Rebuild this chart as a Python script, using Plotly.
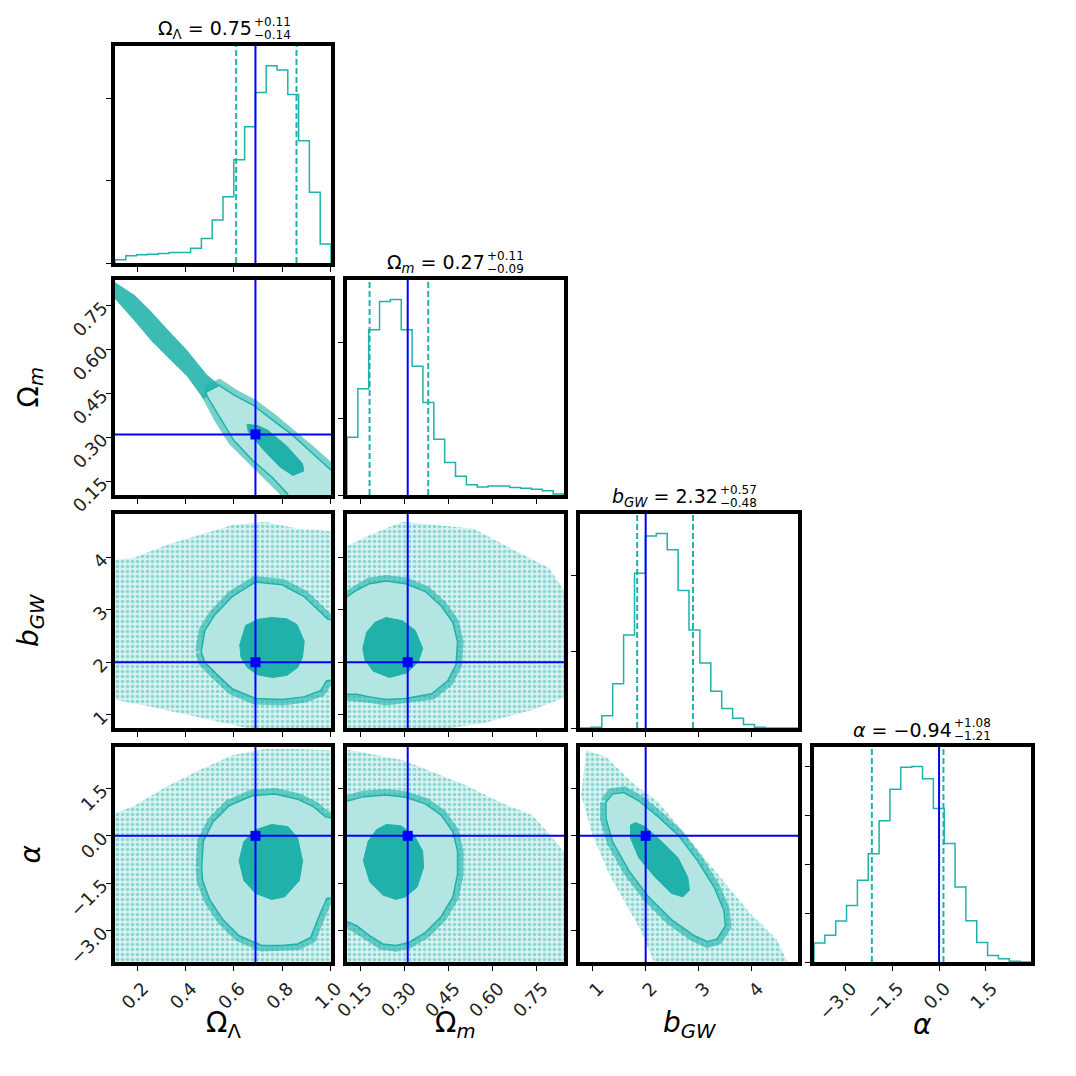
import numpy as np
import plotly.graph_objects as go

# ---------------- values ----------------
axis_labels = ["Ω<sub>Λ</sub>", "Ω<sub><i>m</i></sub>", "<i>b</i><sub><i>GW</i></sub>", "<i>α</i>"]
truths = [0.69, 0.31, 2.0, 0.0]
medians = [0.75, 0.27, 2.32, -0.94]
err_plus = [0.11, 0.11, 0.57, 1.08]
err_minus = [0.14, 0.09, 0.48, 1.21]

x_ranges = [[0.108, 1.003], [0.103, 0.843], [0.764, 4.867], [-4.0, 2.94]]
y_ranges = [None, [0.103, 0.838], [0.746, 4.83], [-3.99, 2.81]]

ticks_omega_l = [0.2, 0.4, 0.6, 0.8, 1.0]
ticks_omega_m = [0.15, 0.30, 0.45, 0.60, 0.75]
ticks_bgw = [1, 2, 3, 4]
ticks_alpha = [-3.0, -1.5, 0.0, 1.5]
tick_vals = [ticks_omega_l, ticks_omega_m, ticks_bgw, ticks_alpha]
tick_fmt = [".1f", ".2f", "d", ".1f"]

# 1D histograms (20 bins over the axis range, arbitrary count units)
hist_omega_l = [10, 22, 25, 27, 29, 32, 32, 45, 75, 132, 203, 317, 418, 523, 605, 592, 517, 375, 217, 58]
hist_omega_m = [178, 328, 510, 597, 603, 510, 397, 285, 172, 100, 58, 32, 25, 28, 28, 23, 21, 18, 13, 3]
hist_bgw = [0, 2, 38, 136, 286, 476, 590, 598, 548, 423, 301, 200, 113, 60, 30, 11, 2, 0, 0, 0]
hist_alpha = [59, 83, 127, 175, 253, 335, 437, 535, 603, 605, 567, 475, 367, 232, 128, 60, 20, 10, 2, 0]
hist_counts = [hist_omega_l, hist_omega_m, hist_bgw, hist_alpha]
hist_tick_step = [253, 236, 235, 151]

# 2D panels: outer (95%) and inner (68%) contour outlines, plus the sample cloud outline
ll_mm_cloud_x = [0.10, 0.107, 0.189, 0.257, 0.325, 0.407, 0.489, 0.543, 0.475, 0.407, 0.325, 0.257, 0.189, 0.10]
ll_mm_cloud_y = [0.845, 0.831, 0.787, 0.731, 0.670, 0.598, 0.514, 0.477, 0.43, 0.508, 0.575, 0.631, 0.698, 0.78]
ll_mm_outer_x = [0.485, 0.54, 0.60, 0.68, 0.76, 0.84, 0.92, 1.0, 1.02, 1.02, 0.84, 0.82, 0.76, 0.68, 0.60, 0.54, 0.49]
ll_mm_outer_y = [0.455, 0.478, 0.445, 0.41, 0.36, 0.31, 0.25, 0.19, 0.19, 0.08, 0.08, 0.11, 0.163, 0.22, 0.29, 0.37, 0.44]
ll_mm_inner_x = [0.655, 0.70, 0.74, 0.82, 0.885, 0.89, 0.845, 0.79, 0.72, 0.66]
ll_mm_inner_y = [0.345, 0.34, 0.325, 0.27, 0.21, 0.185, 0.17, 0.20, 0.26, 0.32]

ll_b_cloud_x = [0.09, 0.19, 0.325, 0.46, 0.595, 0.73, 0.865, 1.02, 1.02, 0.70, 0.46, 0.257, 0.09]
ll_b_cloud_y = [3.94, 4.0, 4.25, 4.43, 4.62, 4.68, 4.55, 4.5, 0.7, 0.7, 0.95, 1.15, 1.3]
ll_b_outer_x = [0.465, 0.48, 0.52, 0.595, 0.69, 0.80, 0.89, 0.96, 0.99, 1.02, 1.02, 0.985, 0.96, 0.89, 0.80, 0.69, 0.595, 0.53, 0.48]
ll_b_outer_y = [2.2, 2.6, 2.9, 3.26, 3.53, 3.48, 3.26, 2.95, 2.82, 2.8, 1.66, 1.65, 1.46, 1.34, 1.29, 1.31, 1.49, 1.77, 2.0]
ll_b_inner_x = [0.625, 0.649, 0.70, 0.76, 0.82, 0.862, 0.892, 0.885, 0.865, 0.82, 0.76, 0.70, 0.656, 0.63]
ll_b_inner_y = [2.33, 2.70, 2.82, 2.855, 2.83, 2.72, 2.40, 2.10, 1.90, 1.75, 1.71, 1.76, 1.90, 2.10]

mm_b_cloud_x = [0.09, 0.181, 0.292, 0.403, 0.536, 0.68, 0.79, 0.85, 0.85, 0.735, 0.569, 0.403, 0.09]
mm_b_cloud_y = [4.18, 4.43, 4.68, 4.62, 4.55, 4.12, 3.81, 3.32, 1.34, 1.09, 0.84, 0.7, 0.7]
mm_b_outer_x = [0.09, 0.137, 0.18, 0.237, 0.303, 0.37, 0.425, 0.464, 0.48, 0.475, 0.447, 0.392, 0.303, 0.237, 0.18, 0.137, 0.09]
mm_b_outer_y = [3.2, 3.38, 3.50, 3.55, 3.50, 3.35, 3.07, 2.76, 2.39, 1.96, 1.65, 1.40, 1.31, 1.29, 1.34, 1.39, 1.39]
mm_b_inner_x = [0.157, 0.170, 0.198, 0.236, 0.292, 0.336, 0.361, 0.347, 0.309, 0.248, 0.192, 0.164]
mm_b_inner_y = [2.266, 2.575, 2.761, 2.854, 2.792, 2.606, 2.266, 2.019, 1.802, 1.709, 1.833, 2.05]

ll_a_cloud_x = [0.09, 0.19, 0.325, 0.46, 0.595, 0.73, 0.865, 1.02, 1.02, 0.09]
ll_a_cloud_y = [0.65, 0.96, 1.58, 2.09, 2.55, 2.75, 2.75, 2.7, -4.1, -4.1]
ll_a_outer_x = [0.467, 0.474, 0.514, 0.582, 0.676, 0.771, 0.865, 0.933, 0.98, 1.02, 1.02, 0.986, 0.959, 0.939, 0.919, 0.865, 0.798, 0.717, 0.622, 0.555, 0.501, 0.471]
ll_a_outer_y = [-1.0, -0.18, 0.44, 0.96, 1.27, 1.32, 1.16, 0.91, 0.60, 0.55, -1.95, -1.98, -2.44, -2.85, -3.21, -3.42, -3.47, -3.47, -3.16, -2.65, -2.03, -1.41]
ll_a_inner_x = [0.622, 0.642, 0.690, 0.757, 0.825, 0.865, 0.885, 0.872, 0.811, 0.757, 0.690, 0.642]
ll_a_inner_y = [-0.79, -0.18, 0.19, 0.36, 0.29, -0.07, -0.79, -1.41, -1.93, -2.01, -1.82, -1.41]

mm_a_cloud_x = [0.09, 0.181, 0.292, 0.403, 0.514, 0.625, 0.736, 0.824, 0.85, 0.85, 0.09]
mm_a_cloud_y = [2.75, 2.6, 2.4, 1.99, 1.58, 1.06, 0.65, -0.28, -0.6, -4.1, -4.1]
mm_a_outer_x = [0.09, 0.109, 0.159, 0.237, 0.303, 0.370, 0.425, 0.464, 0.480, 0.480, 0.464, 0.425, 0.370, 0.314, 0.270, 0.225, 0.181, 0.137, 0.109, 0.09]
mm_a_outer_y = [1.11, 1.11, 1.24, 1.29, 1.22, 1.01, 0.65, 0.13, -0.48, -1.21, -1.93, -2.54, -3.06, -3.37, -3.47, -3.42, -3.16, -2.85, -2.73, -2.73]
mm_a_inner_x = [0.159, 0.175, 0.203, 0.237, 0.286, 0.331, 0.361, 0.364, 0.342, 0.303, 0.270, 0.225, 0.181]
mm_a_inner_y = [-0.79, -0.18, 0.19, 0.36, 0.32, 0.03, -0.48, -1.0, -1.62, -1.93, -2.01, -1.87, -1.46]

b_a_cloud_x = [0.88, 1.25, 1.75, 2.24, 2.85, 3.41, 3.96, 4.46, 4.7, 2.18, 1.93, 1.62, 1.31, 1.0, 0.79]
b_a_cloud_y = [2.71, 2.5, 1.68, 1.06, -0.17, -1.31, -2.44, -3.26, -4.1, -4.1, -3.06, -2.13, -1.2, 0.03, 1.27]
b_a_outer_x = [1.253, 1.376, 1.591, 1.869, 2.238, 2.608, 2.978, 3.286, 3.47, 3.50, 3.347, 3.163, 2.916, 2.485, 2.054, 1.684, 1.376, 1.253]
b_a_outer_y = [1.06, 1.32, 1.37, 1.11, 0.60, 0.03, -0.79, -1.62, -2.34, -2.85, -3.26, -3.35, -3.16, -2.65, -1.93, -1.10, -0.18, 0.55]
b_a_inner_x = [1.715, 1.807, 1.992, 2.30, 2.608, 2.793, 2.824, 2.70, 2.485, 2.177, 1.869, 1.715]
b_a_inner_y = [0.34, 0.42, 0.29, -0.18, -0.69, -1.31, -1.72, -1.93, -1.82, -1.31, -0.69, -0.07]

# (row, col) -> outlines
pairs = {
    (1, 0): (ll_mm_cloud_x, ll_mm_cloud_y, ll_mm_outer_x, ll_mm_outer_y, ll_mm_inner_x, ll_mm_inner_y),
    (2, 0): (ll_b_cloud_x, ll_b_cloud_y, ll_b_outer_x, ll_b_outer_y, ll_b_inner_x, ll_b_inner_y),
    (2, 1): (mm_b_cloud_x, mm_b_cloud_y, mm_b_outer_x, mm_b_outer_y, mm_b_inner_x, mm_b_inner_y),
    (3, 0): (ll_a_cloud_x, ll_a_cloud_y, ll_a_outer_x, ll_a_outer_y, ll_a_inner_x, ll_a_inner_y),
    (3, 1): (mm_a_cloud_x, mm_a_cloud_y, mm_a_outer_x, mm_a_outer_y, mm_a_inner_x, mm_a_inner_y),
    (3, 2): (b_a_cloud_x, b_a_cloud_y, b_a_outer_x, b_a_outer_y, b_a_inner_x, b_a_inner_y),
}

# ---------------- styling / layout ----------------
TEAL = "#20b2aa"
LIGHT = "#b3e5e2"
BLUE = "#0000ff"
FONT = "DejaVu Sans"
W = H = 1076
PAGE = 8          # browser body margin
LW = 4            # frame width
# frame centre lines on screen (px)
col_l = [113, 345, 578, 812]
col_r = [333, 566, 800, 1033]
row_t = [44, 278, 512, 745]
row_b = [265, 497, 730, 964]


def px(xs):
    return (xs - PAGE) / W


def py(ys):
    return 1 - (ys - PAGE) / H


def suffix(r, c):
    k = r * 4 + c + 1
    return "" if k == 1 else str(k)


fig = go.Figure()
layout_axes = {}
shapes = []
annotations = []

for r in range(4):
    for c in range(r + 1):
        s = suffix(r, c)
        xd = [px(col_l[c] + LW / 2), px(col_r[c] - LW / 2)]
        yd = [py(row_b[r] - LW / 2), py(row_t[r] + LW / 2)]
        common = dict(showline=True, linewidth=LW, linecolor="black", mirror=True,
                      ticks="outside", ticklen=5, tickwidth=1.2, tickcolor="black",
                      showgrid=False, zeroline=False, automargin=False,
                      tickfont=dict(family=FONT, size=18, color="#222222"))
        layout_axes["xaxis" + s] = dict(domain=xd, anchor="y" + s, range=x_ranges[c],
                                        tickvals=tick_vals[c], tickformat=tick_fmt[c],
                                        showticklabels=(r == 3), tickangle=-45, ticklabelshift=6, **common)
        if r == c:
            counts = hist_counts[c]
            ymax = 1.1 * max(counts)
            yt = [hist_tick_step[c] * i for i in range(int(ymax // hist_tick_step[c]) + 1)]
            layout_axes["yaxis" + s] = dict(domain=yd, anchor="x" + s, range=[0, ymax],
                                            tickvals=yt, showticklabels=False, **common)
            edges = np.linspace(x_ranges[c][0], x_ranges[c][1], len(counts) + 1)
            hx = [edges[0]] + list(edges[:-1]) + [edges[-1], edges[-1]]
            hy = [0] + list(counts) + [counts[-1], 0]
            fig.add_trace(go.Scatter(x=hx, y=hy, mode="lines", line=dict(color=TEAL, width=1.5, shape="hv"),
                                     xaxis="x" + s, yaxis="y" + s, hoverinfo="skip"))
            for q in (medians[c] - err_minus[c], medians[c] + err_plus[c]):
                shapes.append(dict(type="line", xref="x" + s, yref="y" + s + " domain", x0=q, x1=q, y0=0, y1=1,
                                   line=dict(color=TEAL, width=2, dash="6px,3px")))
            shapes.append(dict(type="line", xref="x" + s, yref="y" + s + " domain", x0=truths[c], x1=truths[c],
                               y0=0, y1=1, line=dict(color=BLUE, width=2)))
            # title with stacked errors
            cx = (col_l[c] + col_r[c]) / 2 + 31
            ty = row_t[c] - 15
            med = f"{medians[c]:.2f}".replace("-", "−")
            annotations.append(dict(text=f"{axis_labels[c]} = {med}", x=px(cx), y=py(ty), xref="paper", yref="paper",
                                    xanchor="right", yanchor="middle", showarrow=False,
                                    font=dict(family=FONT, size=19, color="black")))
            annotations.append(dict(text=f"+{err_plus[c]:.2f}", x=px(cx - 2), y=py(ty - 7), xref="paper",
                                    yref="paper", xanchor="left", yanchor="middle", showarrow=False,
                                    font=dict(family=FONT, size=12, color="black")))
            annotations.append(dict(text=f"−{err_minus[c]:.2f}", x=px(cx - 2), y=py(ty + 6), xref="paper",
                                    yref="paper", xanchor="left", yanchor="middle", showarrow=False,
                                    font=dict(family=FONT, size=12, color="black")))
        else:
            layout_axes["yaxis" + s] = dict(domain=yd, anchor="x" + s, range=y_ranges[r],
                                            tickvals=tick_vals[r], tickformat=tick_fmt[r],
                                            showticklabels=(c == 0), tickangle=-45, **common)
            cxs, cys, oxs, oys, ixs, iys = pairs[(r, c)]
            if (r, c) == (1, 0):
                fig.add_trace(go.Scatter(x=cxs, y=cys, mode="lines", fill="toself",
                                         fillcolor="rgba(32,178,170,0.88)", line=dict(width=0),
                                         xaxis="x" + s, yaxis="y" + s, hoverinfo="skip"))
            else:
                fig.add_trace(go.Scatter(x=cxs, y=cys, mode="lines", fill="toself",
                                         fillcolor="rgba(32,178,170,0.18)", line=dict(width=0),
                                         fillpattern=dict(shape=".", fgcolor="rgba(32,178,170,0.85)",
                                                          bgcolor="rgba(32,178,170,0.18)", size=5, solidity=0.4),
                                         xaxis="x" + s, yaxis="y" + s, hoverinfo="skip"))
            fig.add_trace(go.Scatter(x=oxs + oxs[:1], y=oys + oys[:1], mode="lines",
                                     line=dict(color="rgba(32,178,170,0.6)", width=12),
                                     xaxis="x" + s, yaxis="y" + s, hoverinfo="skip"))
            fig.add_trace(go.Scatter(x=oxs + oxs[:1], y=oys + oys[:1], mode="lines", fill="toself",
                                     fillcolor=LIGHT, line=dict(color=TEAL, width=1.5),
                                     xaxis="x" + s, yaxis="y" + s, hoverinfo="skip"))
            fig.add_trace(go.Scatter(x=ixs + ixs[:1], y=iys + iys[:1], mode="lines", fill="toself",
                                     fillcolor=TEAL, line=dict(color=TEAL, width=1),
                                     xaxis="x" + s, yaxis="y" + s, hoverinfo="skip"))
            shapes.append(dict(type="line", xref="x" + s, yref="y" + s + " domain", x0=truths[c], x1=truths[c],
                               y0=0, y1=1, line=dict(color=BLUE, width=2)))
            shapes.append(dict(type="line", xref="x" + s + " domain", yref="y" + s, x0=0, x1=1,
                               y0=truths[r], y1=truths[r], line=dict(color=BLUE, width=2)))
            fig.add_trace(go.Scatter(x=[truths[c]], y=[truths[r]], mode="markers",
                                     marker=dict(symbol="square", size=10, color=BLUE),
                                     xaxis="x" + s, yaxis="y" + s, hoverinfo="skip"))

# axis labels
for i in range(4):
    annotations.append(dict(text=axis_labels[i], x=px((col_l[i] + col_r[i]) / 2), y=py(1024),
                            xref="paper", yref="paper", xanchor="center", yanchor="middle", showarrow=False,
                            font=dict(family=FONT, size=28, color="black")))
for i in range(1, 4):
    annotations.append(dict(text=axis_labels[i], x=px(30), y=py((row_t[i] + row_b[i]) / 2),
                            xref="paper", yref="paper", xanchor="center", yanchor="middle", showarrow=False,
                            textangle=-90, font=dict(family=FONT, size=28, color="black")))

fig.update_layout(width=W, height=H, margin=dict(l=0, r=0, t=0, b=0),
                  paper_bgcolor="white", plot_bgcolor="white", showlegend=False,
                  shapes=shapes, annotations=annotations, **layout_axes)

fig.write_html("out.html")
